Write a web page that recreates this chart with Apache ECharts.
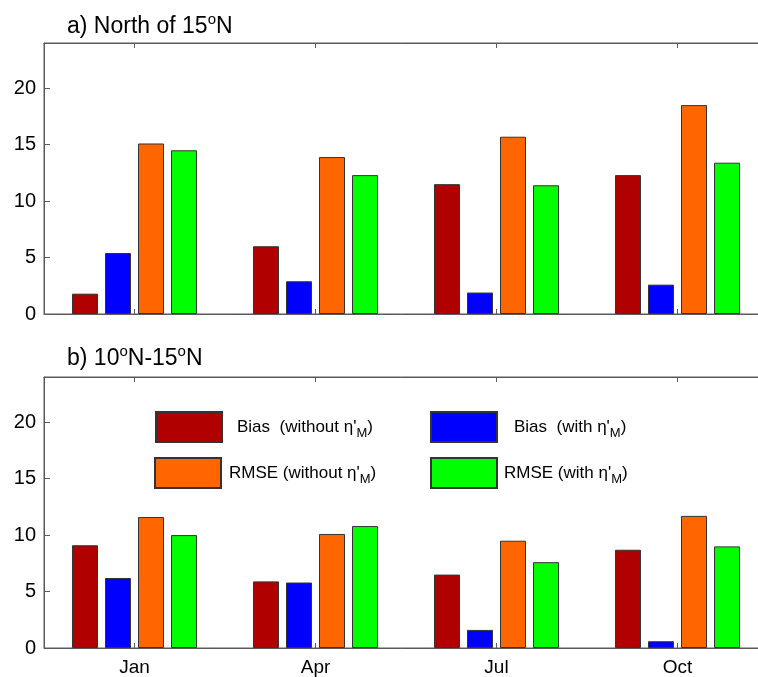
<!DOCTYPE html>
<html>
<head>
<meta charset="utf-8">
<script src="https://cdn.jsdelivr.net/npm/echarts@6/dist/echarts.min.js"></script>
<style>html,body{margin:0;padding:0;background:#fff;overflow:hidden;}#c{width:758px;height:677px;}</style>
</head>
<body>
<div id="c"></div>
<script>
var months = ['Jan', 'Apr', 'Jul', 'Oct'];
var yTicks = [0, 5, 10, 15, 20];
// a) North of 15N
var northBiasWithout = [1.8, 6.0, 11.5, 12.3];
var northBiasWith = [5.4, 2.9, 1.9, 2.6];
var northRmseWithout = [15.1, 13.9, 15.7, 18.5];
var northRmseWith = [14.5, 12.3, 11.4, 13.4];
// b) 10N-15N
var midBiasWithout = [9.1, 5.9, 6.5, 8.7];
var midBiasWith = [6.2, 5.8, 1.6, 0.6];
var midRmseWithout = [11.6, 10.1, 9.5, 11.7];
var midRmseWith = [10.0, 10.8, 7.6, 9.0];

var names = ['BiasWithout', 'BiasWith', 'RmseWithout', 'RmseWith'];
var labels = {
  BiasWithout: "Bias  (without η'{sub|M})",
  BiasWith: "Bias  (with η'{sub|M})",
  RmseWithout: "RMSE (without η'{sub|M})",
  RmseWith: "RMSE (with η'{sub|M})"
};
var colors = ['#B00000', '#0000FF', '#FF6600', '#00FF00'];

var FONT = 'Liberation Sans, Arial, sans-serif';
var axisColor = '#5a5a5a';

function grid(top) {
  return { left: 44, top: top, width: 724, height: 271, outerBoundsMode: 'none', containLabel: false,
    show: true, borderColor: axisColor, borderWidth: 1, backgroundColor: '#fff' };
}
function xBottom(gi, showLabels) {
  return {
    type: 'category', gridIndex: gi, data: months, position: 'bottom',
    axisLine: { lineStyle: { color: axisColor, width: 1 } },
    axisTick: { show: true, inside: true, alignWithLabel: true, length: 5, lineStyle: { color: axisColor } },
    axisLabel: { show: showLabels, color: '#000', fontSize: 19, fontFamily: FONT, margin: 10 },
    splitLine: { show: false }
  };
}
function xTop(gi) {
  return {
    type: 'category', gridIndex: gi, data: months, position: 'top',
    axisLine: { lineStyle: { color: axisColor, width: 1 } },
    axisTick: { show: true, inside: true, alignWithLabel: true, length: 5, lineStyle: { color: axisColor } },
    axisLabel: { show: false }, splitLine: { show: false }
  };
}
function yAx(gi) {
  return {
    type: 'value', gridIndex: gi, min: 0, max: 24, interval: 5,
    axisLine: { show: true, lineStyle: { color: axisColor, width: 1 } },
    axisTick: { show: true, inside: true, length: 6, lineStyle: { color: axisColor } },
    axisLabel: {
      color: '#000', fontSize: 20, fontFamily: FONT, margin: 8, showMaxLabel: false,
      formatter: function (v) { return yTicks.indexOf(v) >= 0 ? String(v) : ''; }
    },
    splitLine: { show: false }
  };
}
function bars(name, data, idx, xi, yi) {
  return {
    type: 'bar', name: name, data: data, xAxisIndex: xi, yAxisIndex: yi,
    barWidth: 26, barGap: '27%',
    itemStyle: { color: colors[idx], borderColor: '#333', borderWidth: 1 },
    emphasis: { disabled: true }, animation: false
  };
}
var richLegend = {
  sub: { fontSize: 13, fontFamily: FONT, color: '#000', padding: [12, 0, 0, 0] }
};
function legend(name, left, top, pad) {
  return {
    data: [name], left: left, top: top, padding: 0, orient: 'horizontal',
    itemWidth: 66, itemHeight: 30, icon: 'rect', selectedMode: false,
    formatter: function (n) { return labels[n]; },
    textStyle: { color: '#000', fontSize: 17, fontFamily: FONT, padding: [0, 0, 0, pad], rich: richLegend }
  };
}
var richTitle = {
  sup: { fontSize: 15, fontFamily: FONT, color: '#000', padding: [0, 0, 14, 0] }
};

var option = {
  backgroundColor: '#fff',
  animation: false,
  title: [
    { text: 'a) North of 15{sup|o}N', left: 67, top: 12, padding: 0,
      textStyle: { fontSize: 23, fontWeight: 'normal', color: '#000', fontFamily: FONT, rich: richTitle } },
    { text: 'b) 10{sup|o}N-15{sup|o}N', left: 67, top: 344, padding: 0,
      textStyle: { fontSize: 23, fontWeight: 'normal', color: '#000', fontFamily: FONT, rich: richTitle } }
  ],
  grid: [grid(43), grid(377)],
  xAxis: [xBottom(0, false), xTop(0), xBottom(1, true), xTop(1)],
  yAxis: [yAx(0), yAx(1)],
  legend: [
    legend(names[0], 155, 411, 10),
    legend(names[1], 430, 411, 12),
    legend(names[2], 154, 457, 3),
    legend(names[3], 430, 457, 2)
  ],
  series: [
    bars(names[0], northBiasWithout, 0, 0, 0),
    bars(names[1], northBiasWith, 1, 0, 0),
    bars(names[2], northRmseWithout, 2, 0, 0),
    bars(names[3], northRmseWith, 3, 0, 0),
    bars(names[0], midBiasWithout, 0, 2, 1),
    bars(names[1], midBiasWith, 1, 2, 1),
    bars(names[2], midRmseWithout, 2, 2, 1),
    bars(names[3], midRmseWith, 3, 2, 1)
  ]
};
var chart = echarts.init(document.getElementById('c'), null, { renderer: 'canvas' });
chart.setOption(option);
</script>
</body>
</html>
